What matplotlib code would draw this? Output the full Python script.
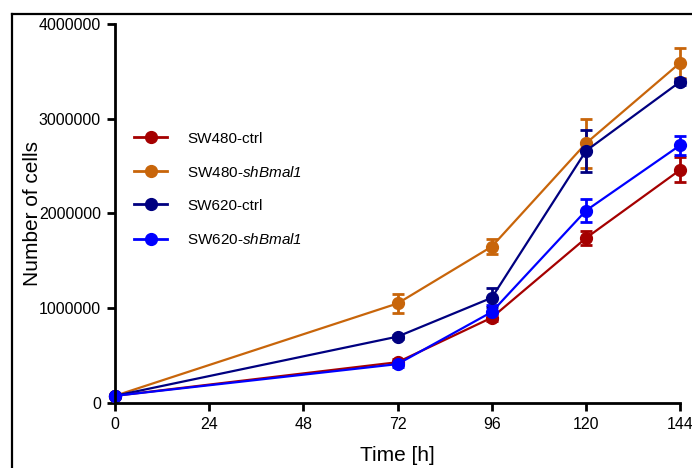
import numpy as np
import matplotlib
matplotlib.use('Agg')
import matplotlib.pyplot as plt
from matplotlib.lines import Line2D

plt.rcParams['font.family'] = ['Liberation Sans', 'DejaVu Sans']
plt.rcParams['mathtext.fontset'] = 'custom'
plt.rcParams['mathtext.it'] = 'Liberation Sans:italic'
plt.rcParams['mathtext.rm'] = 'Liberation Sans:italic'  # digits inside gene names italic too

# data
hours = [0, 72, 96, 120, 144]
labels = ['SW480-ctrl', 'SW480-$\\mathit{shBmal1}$', 'SW620-ctrl', 'SW620-$\\mathit{shBmal1}$']
sw480_ctrl = [75000, 430000, 900000, 1740000, 2460000]
sw480_ctrl_err = [0, 30000, 40000, 70000, 130000]
sw480_sh = [75000, 1050000, 1650000, 2740000, 3590000]
sw480_sh_err = [0, 100000, 80000, 260000, 160000]
sw620_ctrl = [75000, 700000, 1110000, 2660000, 3390000]
sw620_ctrl_err = [0, 20000, 100000, 220000, 30000]
sw620_sh = [75000, 410000, 960000, 2030000, 2720000]
sw620_sh_err = [0, 30000, 70000, 120000, 100000]
colors = ['#A50000', '#C8650A', '#000080', '#0000FF']

fig = plt.figure(figsize=(6.92, 4.68), dpi=100)
ax = fig.add_axes([0.166, 0.139, 0.817, 0.810])

series = [(sw480_ctrl, sw480_ctrl_err), (sw480_sh, sw480_sh_err),
          (sw620_ctrl, sw620_ctrl_err), (sw620_sh, sw620_sh_err)]
for (vals, err), lab, c in zip(series, labels, colors):
    ax.errorbar(hours, vals, yerr=err, color=c, marker='o', markersize=8.5,
                linewidth=1.6, capsize=4, capthick=2, elinewidth=2,
                label=lab, clip_on=False)

ax.set_xlim(0, 144)
ax.set_ylim(0, 4000000)
ax.set_xticks([0, 24, 48, 72, 96, 120, 144])
ax.set_yticks([0, 1000000, 2000000, 3000000, 4000000])
ax.set_yticklabels(['0', '1000000', '2000000', '3000000', '4000000'])
ax.spines['top'].set_visible(False)
ax.spines['right'].set_visible(False)
ax.spines['left'].set_linewidth(2)
ax.spines['bottom'].set_linewidth(2)
ax.tick_params(width=2, length=6, labelsize=11.5, pad=4)
ax.set_xlabel('Time [h]', fontsize=15, labelpad=10)
ax.set_ylabel('Number of cells', fontsize=15)
ax.yaxis.set_label_coords(-0.129, 0.5)

handles = [Line2D([], [], color=c, marker='o', markersize=8.5, linewidth=2) for c in colors]
ax.legend(handles, labels, loc='upper left', bbox_to_anchor=(0.009, 0.752),
          frameon=False, fontsize=11, handlelength=2.2, labelspacing=1.25,
          handletextpad=1.3)

# outer frame (top and left)
fig.add_artist(Line2D([12 / 692, 1], [1 - 14 / 468, 1 - 14 / 468], color='black', linewidth=1.6))
fig.add_artist(Line2D([12 / 692, 12 / 692], [0, 1 - 14 / 468], color='black', linewidth=1.6))

fig.savefig('out.png', dpi=100)
